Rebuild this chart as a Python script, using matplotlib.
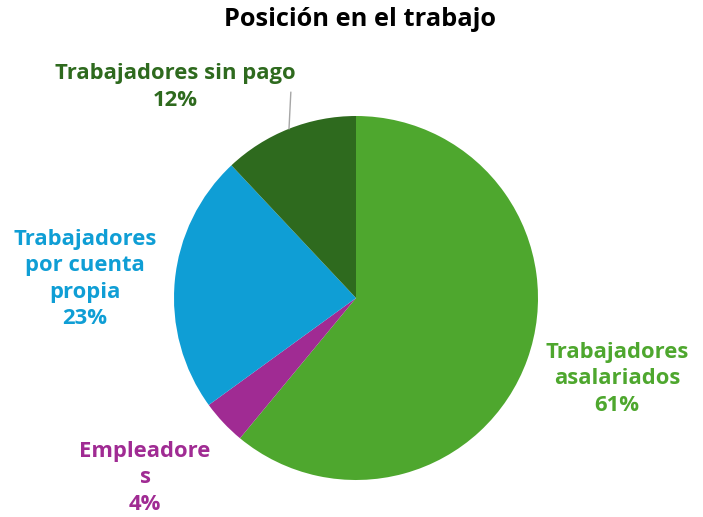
import numpy as np
import matplotlib
matplotlib.use("Agg")
import matplotlib.pyplot as plt

plt.rcParams['font.family'] = ['Open Sans', 'DejaVu Sans']

categories = ['Trabajadores\nasalariados', 'Empleadore\ns', 'Trabajadores\npor cuenta\npropia', 'Trabajadores sin pago']
values = [61, 4, 23, 12]
colors = ['#4EA72E', '#A02B93', '#0F9ED5', '#2E6A1E']
label_pos = [(1.434, -0.445), (-1.159, -0.989), (-1.489, 0.104), (-0.995, 1.159)]

fig = plt.figure(figsize=(7.03, 5.17), dpi=100)
ax = fig.add_axes([174 / 703, 37 / 517, 364 / 703, 364 / 517])

wedges, _ = ax.pie(values, colors=colors, startangle=90, counterclock=False,
                   radius=1.0, wedgeprops=dict(linewidth=0))
ax.set_xlim(-1, 1)
ax.set_ylim(-1, 1)

for cat, v, c, (lx, ly) in zip(categories, values, colors, label_pos):
    ax.text(lx, ly, f'{cat}\n{v}%', ha='center', va='center', color=c,
            fontsize=15.8, fontweight='bold', linespacing=1.33, clip_on=False)

# leader line for the small label at the top
w = wedges[3]
mid = np.deg2rad((w.theta1 + w.theta2) / 2)
ex, ey = np.cos(mid), np.sin(mid)
ax.plot([ex, ex + 0.01], [ey, 1.13], color='#A6A6A6', lw=1, clip_on=False)

fig.text(360 / 703, 1 - 20 / 517, 'Posición en el trabajo', ha='center', va='center',
         fontsize=18.3, fontweight='bold', color='black')

fig.savefig('out.png', dpi=100)
